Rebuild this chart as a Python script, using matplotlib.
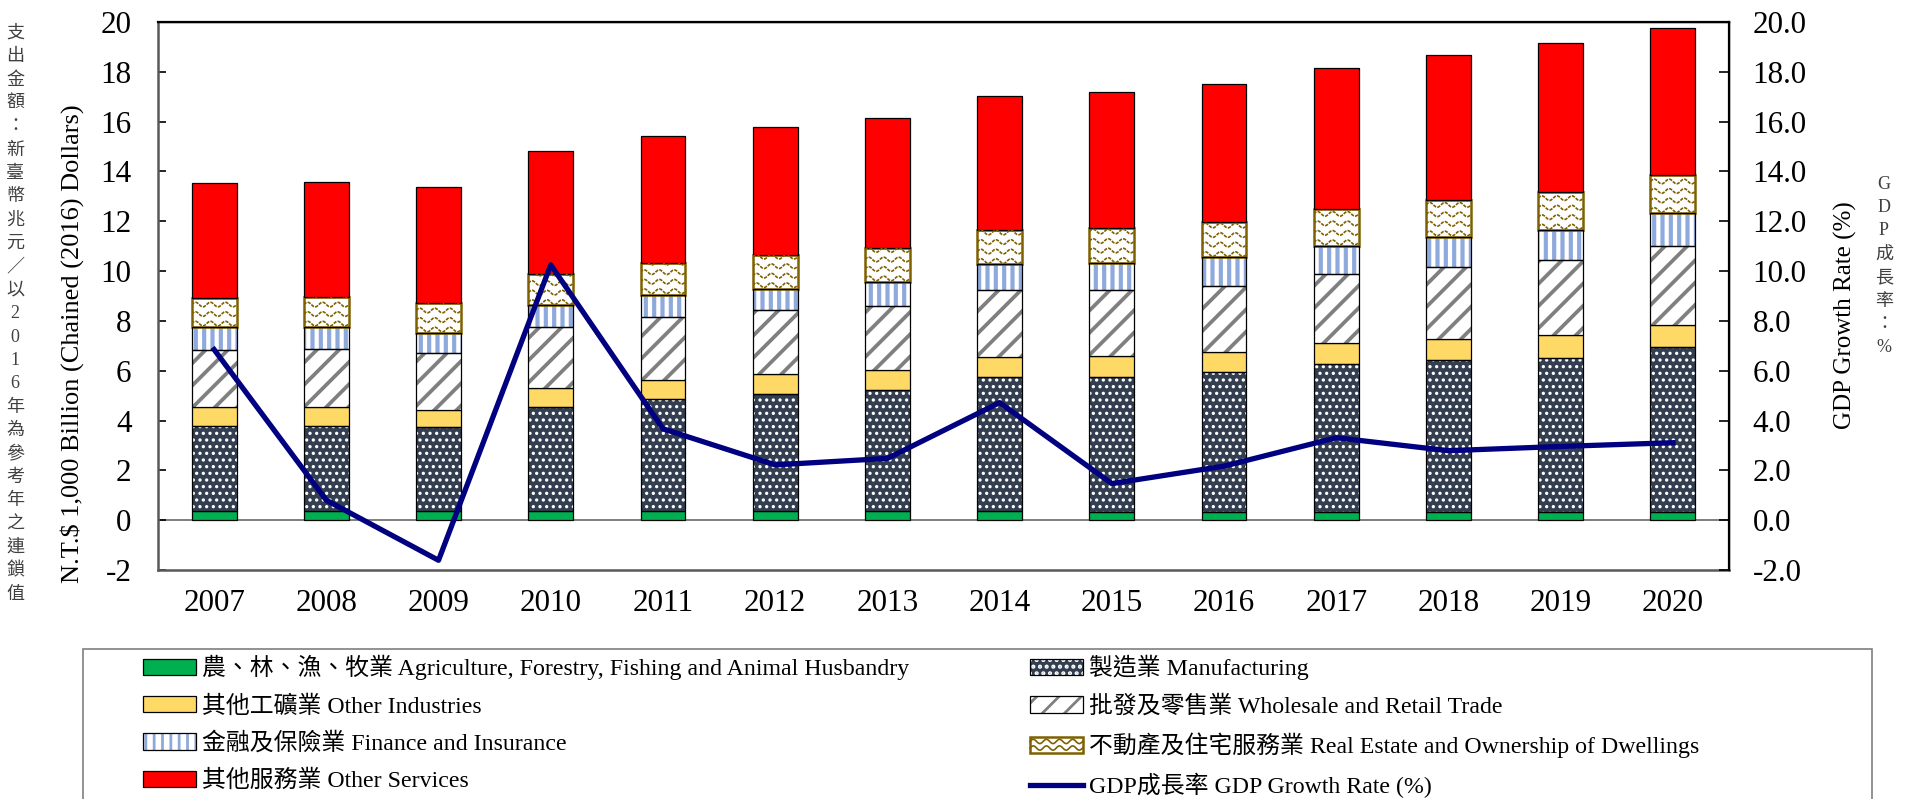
import numpy as np
import matplotlib
matplotlib.use("Agg")
import matplotlib.pyplot as plt
from matplotlib.patches import Rectangle, Patch
from matplotlib.lines import Line2D
from matplotlib.legend_handler import HandlerBase

# values (N.T.$ 1,000 billion, chained 2016 dollars)
years = ["2007", "2008", "2009", "2010", "2011", "2012", "2013",
         "2014", "2015", "2016", "2017", "2018", "2019", "2020"]
agriculture = [0.36, 0.37, 0.36, 0.36, 0.37, 0.37, 0.37, 0.37, 0.33, 0.31, 0.33, 0.33, 0.33, 0.34]
manufacturing = [3.42, 3.43, 3.39, 4.19, 4.48, 4.69, 4.85, 5.36, 5.43, 5.65, 5.96, 6.12, 6.20, 6.60]
other_industries = [0.75, 0.74, 0.69, 0.76, 0.76, 0.79, 0.80, 0.83, 0.83, 0.81, 0.81, 0.83, 0.89, 0.90]
wholesale_retail = [2.32, 2.34, 2.29, 2.43, 2.53, 2.57, 2.59, 2.68, 2.67, 2.65, 2.79, 2.89, 3.01, 3.16]
finance_insurance = [0.91, 0.88, 0.79, 0.88, 0.92, 0.88, 0.96, 1.03, 1.05, 1.13, 1.13, 1.21, 1.22, 1.32]
real_estate = [1.14, 1.18, 1.21, 1.25, 1.27, 1.34, 1.34, 1.38, 1.40, 1.41, 1.46, 1.46, 1.51, 1.55]
other_services = [4.62, 4.65, 4.63, 4.94, 5.08, 5.13, 5.25, 5.38, 5.47, 5.54, 5.66, 5.83, 6.01, 5.88]
gdp_growth = [6.85, 0.80, -1.61, 10.25, 3.67, 2.22, 2.48, 4.72, 1.47, 2.17, 3.31, 2.79, 2.96, 3.11]

left_ticks = list(range(-2, 21, 2))
left_note = "支出金額：新臺幣兆元／以2016年為參考年之連鎖值"
right_note = "GDP成長率：%"

plt.rcParams["font.family"] = ["Liberation Serif", "Noto Sans CJK TC"]
plt.rcParams["hatch.linewidth"] = 1.0

DPI = 200
W, H = 1912, 799
fig = plt.figure(figsize=(W / DPI, H / DPI), dpi=DPI)
ax = fig.add_axes([158 / W, 1 - 570 / H, (1729 - 158) / W, (570 - 22) / H])

RE_EDGE = "#7F6000"
styles = [
    # label, face, hatch, hatch colour, hatch lw
    ("農、林、漁、牧業 Agriculture, Forestry, Fishing and Animal Husbandry", "#00B050", None, None, 0),
    ("製造業 Manufacturing", "#333F50", ".....", "white", 0.7),
    ("其他工礦業 Other Industries", "#FFD966", None, None, 0),
    ("批發及零售業 Wholesale and Retail Trade", "white", "///", "#7F7F7F", 1.35),
    ("金融及保險業 Finance and Insurance", "white", "||||", "#8EA9DB", 1.5),
    ("不動產及住宅服務業 Real Estate and Ownership of Dwellings", "white", "wave", RE_EDGE, 0),
    ("其他服務業 Other Services", "#FF0000", None, None, 0),
]
series = [agriculture, manufacturing, other_industries, wholesale_retail,
          finance_insurance, real_estate, other_services]

x = np.arange(len(years))
width = 0.4
bottom = np.zeros(len(years))


def add_waves(rect):
    x0, y0 = rect.get_x(), rect.get_y()
    w, h = rect.get_width(), rect.get_height()
    px_x = 14 / ax.bbox.width
    px_y = 22 / ax.bbox.height
    step = 9.5 * px_y
    xs = np.linspace(x0, x0 + w, 120)
    k = 0
    while step * (k + 0.3) < h + step:
        yc = y0 + step * (k + 0.35)
        ys = yc + 2.3 * px_y * np.sin(2 * np.pi * (xs - x0) / (15 * px_x))
        ln = Line2D(xs, ys, color=RE_EDGE, lw=0.6, ls=(0, (2.0, 0.7)), zorder=3)
        ax.add_line(ln)
        ln.set_clip_path(rect)
        k += 1


for vals, (label, face, hatch, hcol, hlw) in zip(series, styles):
    vals = np.array(vals)
    if hatch is None:
        ax.bar(x, vals, width, bottom=bottom, color=face, edgecolor="black", linewidth=0.45, zorder=2)
    elif hatch == "wave":
        bars = ax.bar(x, vals, width, bottom=bottom, color=face, edgecolor=RE_EDGE, linewidth=0.9, zorder=2)
        for r in bars:
            add_waves(r)
    else:
        bars = ax.bar(x, vals, width, bottom=bottom, color=face, edgecolor=hcol, hatch=hatch, linewidth=0, zorder=2)
        for r in bars:
            if hasattr(r, "set_hatch_linewidth"):
                r.set_hatch_linewidth(hlw)
        ax.bar(x, vals, width, bottom=bottom, color="none", edgecolor="black", linewidth=0.45, zorder=2.5)
    bottom += vals

ax.axhline(0, color="#7F7F7F", lw=0.7, zorder=1)
ax.set_xlim(-0.5, len(years) - 0.5)
ax.set_ylim(-2, 20)
ax.set_yticks(left_ticks)
ax.set_yticklabels([str(t) for t in left_ticks], fontsize=11.2)
ax.set_xticks(x)
ax.set_xticklabels(years, fontsize=11.2)
ax.tick_params(axis="x", length=0, pad=7)
ax.tick_params(axis="y", direction="in", length=3, width=0.6, pad=9.5)
for s in ["left", "bottom"]:
    ax.spines[s].set_color("#595959")
    ax.spines[s].set_linewidth(0.9)
ax.spines["top"].set_linewidth(0.5)

ax2 = ax.twinx()
ax2.set_ylim(-2, 20)
ax2.set_yticks(left_ticks)
ax2.set_yticklabels([f"{t:.1f}" for t in left_ticks], fontsize=11.2)
ax2.tick_params(axis="y", direction="in", length=3.5, width=0.6, pad=8.5)
ax2.spines["right"].set_linewidth(0.5)
for s in ["left", "bottom"]:
    ax2.spines[s].set_visible(False)
ax2.plot(x, gdp_growth, color="#000080", lw=1.9, zorder=5)

fig.text(72 / W, 1 - 344 / H, "N.T.$ 1,000 Billion (Chained (2016) Dollars)",
         rotation=90, ha="center", va="center", fontsize=9.5)
fig.text(1845 / W, 1 - 315 / H, "GDP Growth Rate (%)",
         rotation=90, ha="center", va="center", fontsize=9.0)
fig.text(15 / W, 1 - 314 / H, "\n".join(left_note), ha="center", va="center",
         fontsize=6.5, color="#404040", linespacing=1.49)
fig.text(1884 / W, 1 - 266 / H, "\n".join(right_note), ha="center", va="center",
         fontsize=6.5, color="#404040", linespacing=1.49)

# legend frame (bottom edge runs off the figure)
fig.patches.append(Rectangle((83 / W, -0.05), (1872 - 83) / W, 0.05 + (799 - 649) / H,
                             transform=fig.transFigure, facecolor="none",
                             edgecolor="#7F7F7F", lw=0.6))


class WaveHandler(HandlerBase):
    def create_artists(self, legend, orig_handle, xdescent, ydescent, width, height, fontsize, trans):
        rect = Rectangle((-xdescent, -ydescent), width, height, facecolor="white",
                         edgecolor=RE_EDGE, lw=0.9, transform=trans)
        arts = [rect]
        xs = np.linspace(-xdescent, -xdescent + width, 80)
        for k in (0.3, 0.7):
            ys = -ydescent + height * k + height * 0.13 * np.sin(2 * np.pi * xs / (width / 4))
            arts.append(Line2D(xs, ys, color=RE_EDGE, lw=0.6, transform=trans))
        return arts


class WaveKey:
    pass


handles = []
for label, face, hatch, hcol, hlw in styles:
    if hatch is None:
        handles.append(Patch(facecolor=face, edgecolor="black", lw=0.45))
    elif hatch == "wave":
        handles.append(WaveKey())
    else:
        p = Patch(facecolor=face, edgecolor=hcol, hatch=hatch, lw=0)
        if hasattr(p, "set_hatch_linewidth"):
            p.set_hatch_linewidth(hlw)
        handles.append((p, Patch(facecolor="none", edgecolor="black", lw=0.45)))
line_handle = Line2D([], [], color="#000080", lw=1.9)
labels = [s[0] for s in styles]

col1 = [0, 2, 4, 6]
col2 = [1, 3, 5]
leg_kw = dict(frameon=False, fontsize=8.6, handlelength=2.2, handleheight=0.68,
              handletextpad=0.25, labelspacing=0.62, borderpad=0, borderaxespad=0,
              handler_map={WaveKey: WaveHandler()}, loc="upper left")
leg1 = fig.legend([handles[i] for i in col1], [labels[i] for i in col1],
                  bbox_to_anchor=(143 / W, 1 - 655 / H), **leg_kw)
leg2 = fig.legend([handles[i] for i in col2] + [line_handle],
                  [labels[i] for i in col2] + ["GDP成長率 GDP Growth Rate (%)"],
                  bbox_to_anchor=(1030 / W, 1 - 655 / H), **leg_kw)

fig.savefig("out.png", dpi=DPI)
